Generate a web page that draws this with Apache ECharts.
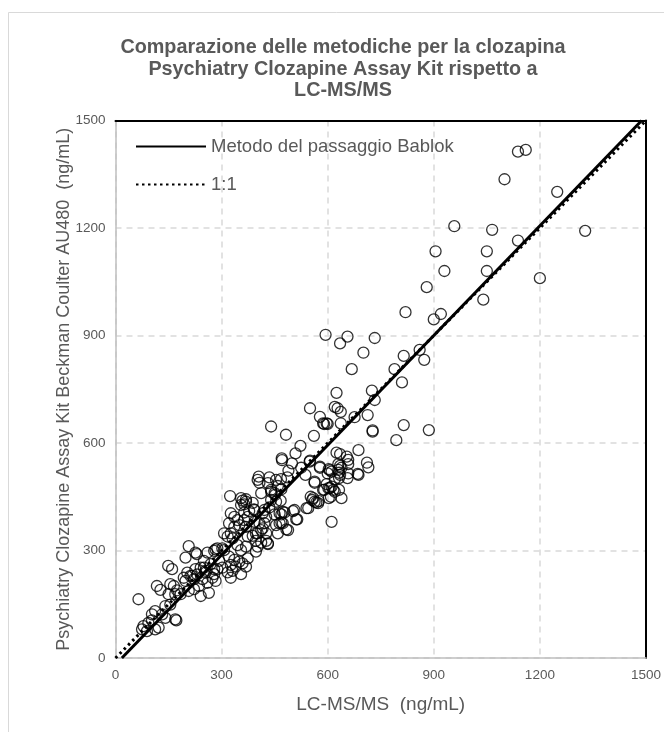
<!DOCTYPE html>
<html>
<head>
<meta charset="utf-8">
<script src="https://cdn.jsdelivr.net/npm/echarts@6/dist/echarts.min.js"></script>
<style>html,body{margin:0;padding:0;background:#fff}#c{width:664px;height:732px}</style>
</head>
<body>
<div id="c"></div>
<script>
// ---- data ----
const titleLines = ["Comparazione delle metodiche per la clozapina", "Psychiatry Clozapine Assay Kit rispetto a", "LC-MS/MS"];
const xName = "LC-MS/MS  (ng/mL)";
const yName = "Psychiatry Clozapine Assay Kit Beckman Coulter AU480  (ng/mL)";
const axisMin = 0, axisMax = 1500, axisStep = 300;
const seriesNames = ["Metodo del passaggio Bablok", "1:1"];
const bablokLine = [[18, 0], [1488, 1500]];
const identityLine = [[0, 0], [1500, 1500]];
const lcmsms = [
65,75,79,89,93,103,112,122,103,112,132,141,141,155,169,172,117,127,150,169,174,155,165,149,160,184,198,207,198,
203,217,231,246,260,255,274,283,264,241,222,236,250,226,279,302,207,230,226,260,279,250,269,241,255,279,288,293,212,222,193,288,283,
307,302,321,336,350,326,340,359,369,374,331,317,355,326,307,317,326,331,355,345,369,388,397,412,402,426,431,326,336,345,321,336,350,324,359,364,355,388,391,378,369,364,355,369,393,374,364,393,369,374,397,397,
412,407,431,440,459,469,451,416,426,464,473,488,402,454,435,468,486,405,440,450,467,454,440,421,473,506,514,464,421,416,402,412,426,431,435,450,478,469,483,459,454,469,407,440,482,470,499,489,471,
523,509,550,578,561,545,556,552,563,573,563,587,606,616,603,611,590,600,550,578,587,597,594,537,549,559,568,540,502,511,590,609,575,525,578,597,611,602,563,
635,656,701,668,625,620,628,637,676,713,637,687,654,658,625,603,611,635,632,685,711,715,635,630,658,606,600,632,656,687,639,630,658,620,635,620,632,639,
733,725,733,727,727,815,794,886,789,815,860,873,810,
900,920,820,880,905,930,958,1050,1050,1040,1065,1138,1200,1328,1249,1100,1138,1160
];
const psychiatryKit = [
164,80,89,75,98,105,80,85,122,131,122,112,145,149,108,105,201,190,178,178,189,206,201,257,248,178,215,187,280,
238,229,233,220,210,238,224,215,182,173,192,201,252,248,248,252,312,290,294,294,299,271,262,252,243,234,248,271,229,220,224,306,303,
301,306,283,274,269,260,255,264,255,278,243,239,234,224,348,339,348,334,301,315,311,341,327,322,311,327,318,404,394,385,376,366,371,452,439,429,427,433,415,410,443,406,446,436,413,394,385,380,366,339,348,297,
460,489,488,469,480,471,455,404,394,404,376,357,497,497,504,499,504,506,464,460,439,436,441,413,408,413,387,376,376,362,348,357,348,320,420,401,406,378,359,348,371,401,376,646,623,557,543,523,552,
592,571,551,534,620,418,441,450,436,432,492,469,474,469,446,380,653,653,697,673,655,655,902,511,548,446,434,418,410,387,469,450,438,531,531,485,478,474,489,
878,897,852,806,740,701,697,687,672,678,655,580,562,553,573,527,520,536,517,514,545,532,511,525,515,524,515,502,502,511,531,541,541,499,569,464,469,446,
893,746,720,635,632,650,608,636,806,843,860,832,769,
945,960,965,1035,1135,1080,1205,1135,1080,1000,1195,1165,1060,1192,1301,1336,1413,1418
];

const chart = echarts.init(document.getElementById('c'), null, {renderer: 'canvas'});
const points = lcmsms.map((x, i) => [x, psychiatryKit[i]]);
const gray = '#595959';
const font = 'Arial, "Liberation Sans", sans-serif';
const plain = v => String(v);

chart.setOption({
  animation: false,
  backgroundColor: '#fff',
  textStyle: {fontFamily: font},
  title: {
    text: titleLines.join('\n'),
    left: 338, top: 32, textAlign: 'center',
    textStyle: {fontSize: 19.8, fontWeight: 'bold', color: gray, lineHeight: 21.5, fontFamily: font}
  },
  legend: {
    orient: 'vertical', left: 130, top: 132,
    itemWidth: 70, itemHeight: 18, itemGap: 19,
    data: seriesNames,
    itemStyle: {opacity: 0},
    textStyle: {fontSize: 18.5, color: gray, fontFamily: font}
  },
  graphic: [{
    type: 'rect', silent: true, z: -1,
    shape: {x: 8.5, y: 12.5, width: 700, height: 800},
    style: {fill: 'none', stroke: '#d9d9d9', lineWidth: 1}
  }],
  grid: {left: 115.5, right: 16, top: 120.5, bottom: 74},
  xAxis: [{
    type: 'value', min: axisMin, max: axisMax, interval: axisStep,
    name: xName, nameLocation: 'middle', nameGap: 37, nameMoveOverlap: false,
    nameTextStyle: {fontSize: 19, color: gray, fontFamily: font},
    axisLine: {show: true, lineStyle: {color: '#bfbfbf', width: 1.5}},
    axisTick: {show: false},
    axisLabel: {fontSize: 13.5, color: gray, margin: 10, fontFamily: font, formatter: plain},
    splitLine: {show: true, lineStyle: {color: '#d9d9d9', type: [6, 5], width: 1.5}}
  }, {
    type: 'value', min: axisMin, max: axisMax, position: 'top',
    axisLine: {show: true, onZero: false, lineStyle: {color: '#000', width: 2}},
    axisTick: {show: false}, axisLabel: {show: false}, splitLine: {show: false}
  }],
  yAxis: [{
    type: 'value', min: axisMin, max: axisMax, interval: axisStep,
    name: yName, nameLocation: 'middle', nameGap: 42, nameMoveOverlap: false,
    nameTextStyle: {fontSize: 18, color: gray, fontFamily: font},
    axisLine: {show: true, lineStyle: {color: '#bfbfbf', width: 1.5}},
    axisTick: {show: false},
    axisLabel: {fontSize: 13.5, color: gray, margin: 10, fontFamily: font, formatter: plain},
    splitLine: {show: true, lineStyle: {color: '#d9d9d9', type: [6, 5], width: 1.5}}
  }, {
    type: 'value', min: axisMin, max: axisMax, position: 'right',
    axisLine: {show: true, onZero: false, lineStyle: {color: '#000', width: 2}},
    axisTick: {show: false}, axisLabel: {show: false}, splitLine: {show: false}
  }],
  series: [{
    name: 'points', type: 'scatter', data: points,
    symbol: 'circle', symbolSize: 11,
    itemStyle: {color: 'rgba(0,0,0,0)', borderColor: '#000', borderWidth: 1.3},
    z: 3
  }, {
    name: seriesNames[0], type: 'line', data: bablokLine,
    symbol: 'none', lineStyle: {color: '#000', width: 3, type: 'solid'},
    itemStyle: {color: '#000'}, z: 4
  }, {
    name: seriesNames[1], type: 'line', data: identityLine,
    symbol: 'none', lineStyle: {color: '#000', width: 3, type: [2.5, 3.5]},
    itemStyle: {color: '#000'}, z: 4
  }]
});
</script>
</body>
</html>
